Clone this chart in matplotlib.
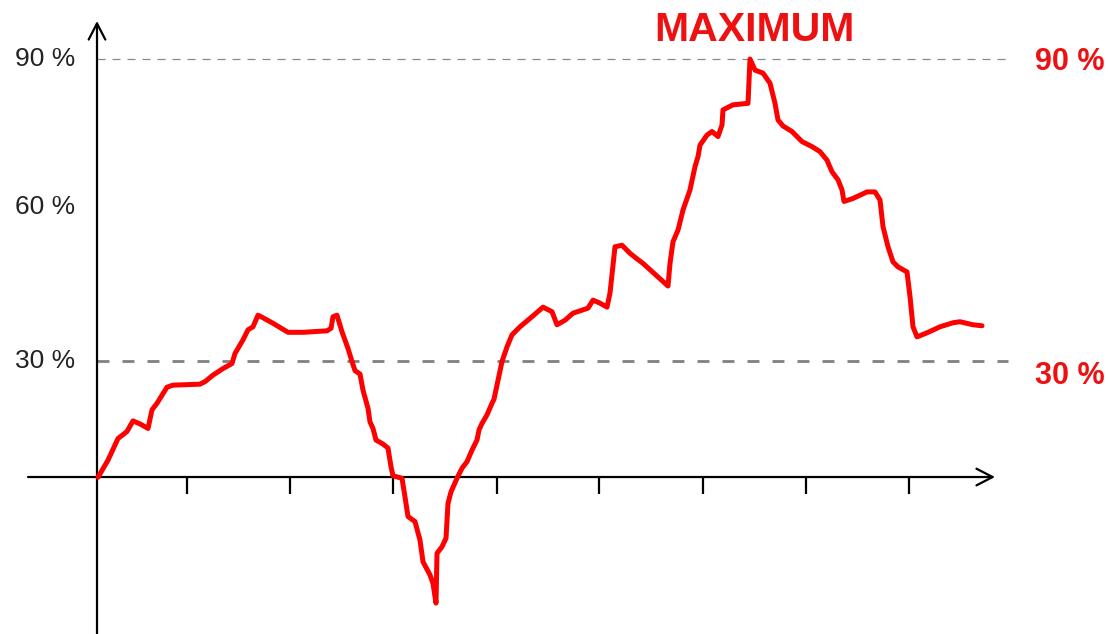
import matplotlib
matplotlib.use("Agg")
import matplotlib.pyplot as plt

plt.rcParams['font.family'] = ['Liberation Sans', 'DejaVu Sans']
plt.rcParams['lines.scale_dashes'] = False

# ---- data (x: time units from origin, y: percent) ----
x_vals = [1, 11, 21, 30, 36, 43, 51, 55, 60, 65, 70, 76, 103, 108, 116, 126, 135, 138,
          146, 151, 156, 161, 165, 176, 191, 206, 230, 234, 236, 240, 245, 251, 255, 258,
          263, 266, 271, 273, 276, 279, 286, 291, 294, 296, 305, 308, 311, 318, 323, 326,
          333, 336, 339, 340, 345, 349, 351, 354, 360, 365, 370, 375, 380, 382, 385, 390,
          395, 397, 401, 405, 410, 415, 423, 435, 446, 455, 460, 468, 476, 491, 496, 503,
          510, 513, 518, 525, 533, 540, 546, 571, 573, 576, 581, 586, 593, 598, 601, 603,
          610, 615, 621, 625, 626, 636, 651, 653, 658, 666, 673, 678, 681, 686, 695, 705,
          715, 723, 730, 735, 741, 745, 747, 756, 770, 778, 783, 786, 791, 796, 801, 810,
          813, 816, 820, 830, 843, 856, 863, 876, 885]
y_vals = [6.9, 10.3, 14.6, 16.0, 18.1, 17.5, 16.6, 20.3, 21.6, 23.2, 24.8, 25.2, 25.4, 25.9,
          27.2, 28.5, 29.5, 31.5, 34.2, 36.2, 36.8, 39.1, 38.7, 37.5, 35.7, 35.7, 36.0, 36.5,
          38.8, 39.1, 35.8, 32.5, 29.9, 28.1, 27.4, 24.2, 20.6, 17.9, 16.6, 14.3, 13.5, 12.7,
          9.0, 7.2, 6.7, 3.0, -0.9, -1.9, -5.6, -9.9, -12.5, -14.2, -18.1, -8.2, -6.9, -5.2,
          1.7, 4.0, 6.7, 8.7, 10.0, 12.3, 14.3, 16.3, 17.6, 19.3, 21.6, 22.4, 26.2, 29.9,
          32.8, 35.2, 36.8, 38.8, 40.7, 39.8, 37.2, 38.1, 39.5, 40.5, 42.1, 41.5, 40.7, 43.5,
          52.7, 53.0, 51.4, 50.3, 49.4, 44.9, 49.4, 53.7, 56.0, 60.0, 64.0, 68.6, 70.6, 72.9,
          74.9, 75.6, 74.6, 76.9, 79.9, 80.9, 81.2, 90.0, 87.8, 87.2, 85.2, 81.2, 77.9, 76.7,
          75.6, 73.6, 72.6, 71.6, 69.9, 67.6, 66.0, 64.0, 61.7, 62.3, 63.6, 63.6, 62.0, 56.7,
          52.7, 49.7, 48.7, 47.7, 42.8, 36.8, 34.8, 35.6, 36.8, 37.6, 37.8, 37.2, 37.0]

tick_positions = [90, 193, 296, 400, 502, 606, 709, 812]
left_labels = [90, 60, 30]
max_level = 90
min_level = 30
axis_level = 6.95
max_title = "MAXIMUM"

# ---- figure ----
fig = plt.figure(figsize=(11.08, 6.34), dpi=100)
ax = fig.add_axes([0, 0, 1, 1])
ax.set_xlim(-97, 1011)
ax.set_ylim(-24.24, 101.73)
ax.axis('off')

# reference dashed lines
ax.plot([0, 911], [max_level, max_level], color='#8a8a8a', lw=0.9,
        dashes=(5.8, 5.0), zorder=1)
ax.plot([0, 911], [min_level, min_level], color='#808080', lw=2.0,
        dashes=(8.6, 9.4), zorder=1)

# axes with arrows
ax.annotate('', xy=(898, axis_level), xytext=(-69, axis_level),
            arrowprops=dict(arrowstyle='->, head_length=0.58, head_width=0.3',
                            mutation_scale=20, lw=1.6, color='black',
                            shrinkA=0, shrinkB=0), zorder=2)
ax.annotate('', xy=(0, 97.55), xytext=(0, -24.3),
            arrowprops=dict(arrowstyle='->, head_length=0.58, head_width=0.3',
                            mutation_scale=20, lw=1.6, color='black',
                            shrinkA=0, shrinkB=0), zorder=2)

# ticks
for t in tick_positions:
    ax.plot([t, t], [axis_level, axis_level - 3.4], color='black', lw=1.6,
            solid_capstyle='butt', zorder=2)

# left labels
for v in left_labels:
    ax.text(-22, v + (0.6 if v == 60 else 0), f"{v} %", ha='right', va='center',
            fontsize=19, color='#222222')

# right labels
ax.text(938, max_level - 0.6, f"{max_level} %", ha='left', va='center',
        fontsize=22, fontweight='bold', color='#ee1111')
ax.text(938, min_level - 3.0, f"{min_level} %", ha='left', va='center',
        fontsize=22, fontweight='bold', color='#ee1111')
ax.text(657, 95.8, max_title, ha='center', va='center',
        fontsize=29.5, fontweight='bold', color='#ee1111')

# main series
ax.plot(x_vals, y_vals, color='#ff0000', lw=3.6, solid_joinstyle='round',
        solid_capstyle='round', zorder=3)

fig.savefig('out.png', dpi=100)
